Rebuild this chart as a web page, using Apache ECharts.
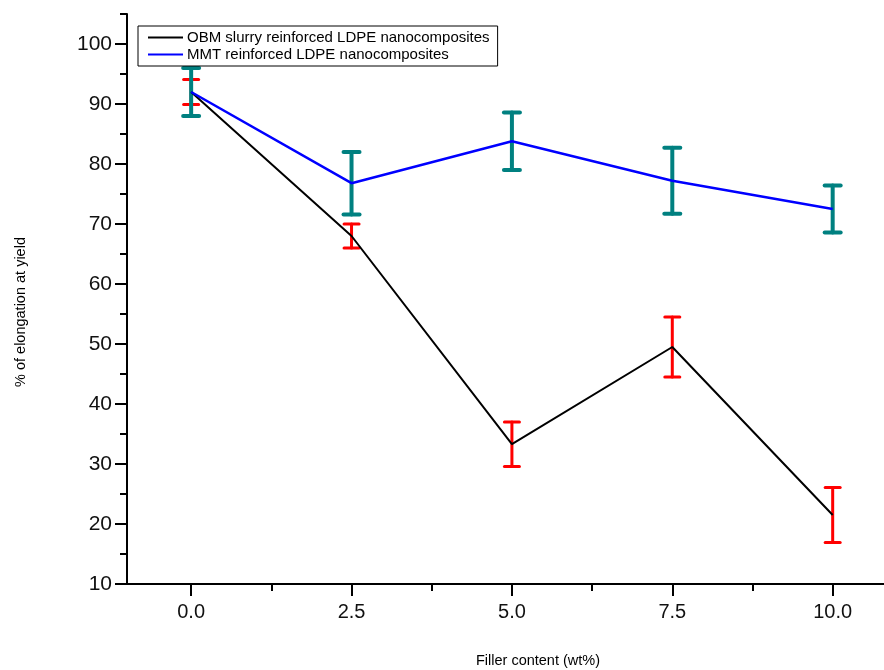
<!DOCTYPE html>
<html>
<head>
<meta charset="utf-8">
<script src="https://cdn.jsdelivr.net/npm/echarts@6/dist/echarts.min.js"></script>
<style>
  html, body { margin: 0; padding: 0; background: #fff; }
  #main { width: 884px; height: 670px; }
</style>
</head>
<body>
<div id="main"></div>
<script>
// filler content (wt%)
var filler = [0, 2.5, 5, 7.5, 10];
// OBM slurry reinforced LDPE
var obm = [92, 68, 33.3, 49.5, 21.5];
var obmErr = [2.1, 2, 3.7, 5, 4.6];
// MMT reinforced LDPE
var mmt = [92, 76.8, 83.8, 77.2, 72.5];
var mmtErr = [4, 5.2, 4.8, 5.5, 3.9];

var xTicks = [0, 2.5, 5, 7.5, 10];
var xMinor = [1.25, 3.75, 6.25, 8.75];
var yTicks = [10, 20, 30, 40, 50, 60, 70, 80, 90, 100];
var yMinor = [15, 25, 35, 45, 55, 65, 75, 85, 95, 105];

var font = '"Liberation Sans", Arial, sans-serif';

function pairs(ys) {
  return filler.map(function (x, i) { return [x, ys[i]]; });
}
function bars(ys, errs) {
  return filler.map(function (x, i) { return [x, ys[i] - errs[i], ys[i] + errs[i]]; });
}

function errorBar(color, width, half) {
  return function (params, api) {
    var x = api.value(0);
    var lo = api.coord([x, api.value(1)]);
    var hi = api.coord([x, api.value(2)]);
    var st = { stroke: color, lineWidth: width, lineCap: 'round' };
    return {
      type: 'group',
      children: [
        { type: 'line', shape: { x1: hi[0], y1: hi[1], x2: lo[0], y2: lo[1] }, style: st },
        { type: 'line', shape: { x1: hi[0] - half, y1: hi[1], x2: hi[0] + half, y2: hi[1] }, style: st },
        { type: 'line', shape: { x1: lo[0] - half, y1: lo[1], x2: lo[0] + half, y2: lo[1] }, style: st }
      ]
    };
  };
}

var myChart = echarts.init(document.getElementById('main'));
var option = {
  backgroundColor: '#fff',
  animation: false,
  grid: { left: 127, right: 0, top: 14, bottom: 86 },
  legend: {
    data: ['OBM slurry reinforced LDPE nanocomposites', 'MMT reinforced LDPE nanocomposites'],
    orient: 'vertical',
    left: 138,
    top: 26,
    padding: [4, 8, 4, 10],
    itemGap: 2,
    itemWidth: 35,
    itemHeight: 2,
    icon: 'rect',
    borderColor: '#000',
    borderWidth: 1,
    backgroundColor: '#fff',
    textStyle: { fontFamily: font, fontSize: 15, color: '#000', padding: [0, 0, 0, -1] }
  },
  xAxis: [
    {
      type: 'value', min: -1, max: 10.8,
      axisLine: { onZero: false, lineStyle: { color: '#000', width: 2 } },
      axisTick: { customValues: xTicks, length: 12, lineStyle: { color: '#000', width: 2 } },
      axisLabel: {
        customValues: xTicks, margin: 18, fontFamily: font, fontSize: 20, color: '#111',
        formatter: function (v) { return v.toFixed(1); }
      },
      splitLine: { show: false }
    },
    {
      type: 'value', min: -1, max: 10.8, position: 'bottom',
      axisLine: { show: false, onZero: false },
      axisTick: { customValues: xMinor, length: 7, lineStyle: { color: '#000', width: 2 } },
      axisLabel: { show: false },
      splitLine: { show: false }
    }
  ],
  yAxis: [
    {
      type: 'value', min: 10, max: 105,
      axisLine: { show: true, onZero: false, lineStyle: { color: '#000', width: 2 } },
      axisTick: { show: true, customValues: yTicks, length: 12, lineStyle: { color: '#000', width: 2 } },
      axisLabel: { customValues: yTicks, margin: 15, fontFamily: font, fontSize: 21, color: '#111' },
      splitLine: { show: false }
    },
    {
      type: 'value', min: 10, max: 105, position: 'left', offset: 0,
      axisLine: { show: false, onZero: false },
      axisTick: { show: true, customValues: yMinor, length: 7, lineStyle: { color: '#000', width: 2 } },
      axisLabel: { show: false },
      splitLine: { show: false }
    }
  ],
  graphic: [
    {
      type: 'text', x: 21, y: 312, rotation: Math.PI / 2,
      style: {
        text: '% of elongation at yield', fontFamily: font, fontSize: 14.5, fill: '#000',
        textAlign: 'center', textVerticalAlign: 'middle'
      }
    },
    {
      type: 'text', x: 538, y: 661,
      style: {
        text: 'Filler content (wt%)', fontFamily: font, fontSize: 14.5, fill: '#000',
        textAlign: 'center', textVerticalAlign: 'middle'
      }
    }
  ],
  series: [
    {
      name: 'obm error', type: 'custom', data: bars(obm, obmErr),
      renderItem: errorBar('#ff0000', 3, 7.5), encode: { x: 0, y: [1, 2] }, z: 2
    },
    {
      name: 'mmt error', type: 'custom', data: bars(mmt, mmtErr),
      renderItem: errorBar('#008080', 4, 8), encode: { x: 0, y: [1, 2] }, z: 3
    },
    {
      name: 'OBM slurry reinforced LDPE nanocomposites', type: 'line', data: pairs(obm),
      symbol: 'none', color: '#000', lineStyle: { color: '#000', width: 2 }, z: 4
    },
    {
      name: 'MMT reinforced LDPE nanocomposites', type: 'line', data: pairs(mmt),
      symbol: 'none', color: '#0000ff', lineStyle: { color: '#0000ff', width: 2.5 }, z: 5
    }
  ]
};

myChart.setOption(option);
</script>
</body>
</html>
